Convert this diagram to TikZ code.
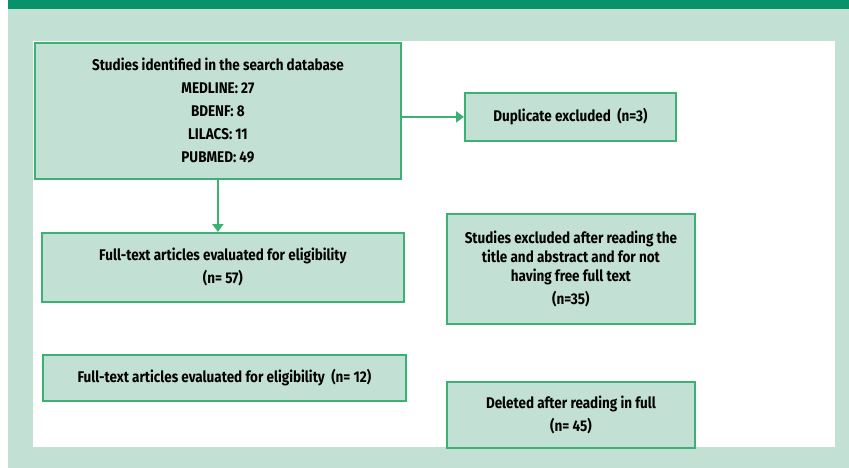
\documentclass[tikz,border=0pt]{standalone}
\usepackage{fontspec}
\setmainfont{Fira Sans}
\newfontfamily\condfont[FakeStretch=0.87]{Fira Sans}
\usetikzlibrary{arrows.meta}
\definecolor{topbar}{HTML}{08926C}
\definecolor{bgpale}{HTML}{C2E0D4}
\definecolor{boxfill}{HTML}{C2E1D4}
\definecolor{boxline}{HTML}{3BB273}
\tikzset{
  flowbox/.style={draw=boxline, fill=boxfill, line width=1.8pt, anchor=north west,
    align=center, inner sep=0pt, text=black,
    font=\condfont\bfseries\fontsize{15.5}{23}\selectfont},
  flowarrow/.style={draw=boxline, line width=2.6pt, -{Triangle[length=8pt,width=11pt]}}
}
\begin{document}
\begin{tikzpicture}[x=1pt,y=-1pt]
\useasboundingbox (0,0) rectangle (849,468);
\fill[white] (0,0) rectangle (849,468);
\fill[bgpale] (8,8.7) rectangle (849,468);
\fill[topbar] (8,0) rectangle (849,8.7);
\fill[white] (33,41) rectangle (835,447);

\node[flowbox, minimum width=366pt, minimum height=136pt] (ident) at (34,42)
  {Studies identified in the search database\\MEDLINE: 27\\BDENF: 8\\LILACS: 11\\PUBMED: 49};
\node[flowbox, minimum width=211pt, minimum height=48pt] (dup) at (464,92)
  {Duplicate excluded\ \ (n=3)};
\node[flowbox, minimum width=362pt, minimum height=69pt] (full57) at (41,232)
  {Full-text articles evaluated for eligibility\\(n= 57)};
\node[flowbox, minimum width=248pt, minimum height=110pt,
  font=\condfont\bfseries\fontsize{15.5}{19}\selectfont] (excl) at (446,213)
  {Studies excluded after reading the\\title and abstract and for not\\having free full text\\[4pt](n=35)};
\node[flowbox, minimum width=363pt, minimum height=46pt] (full12) at (42,354)
  {Full-text articles evaluated for eligibility\ \ (n= 12)};
\node[flowbox, minimum width=248pt, minimum height=66pt] (del) at (446,381)
  {Deleted after reading in full\\(n= 45)};

\draw[flowarrow] (ident.east |- dup.west) -- (dup.west);
\draw[flowarrow] (ident.south) -- (ident.south |- full57.north);
\end{tikzpicture}
\end{document}
